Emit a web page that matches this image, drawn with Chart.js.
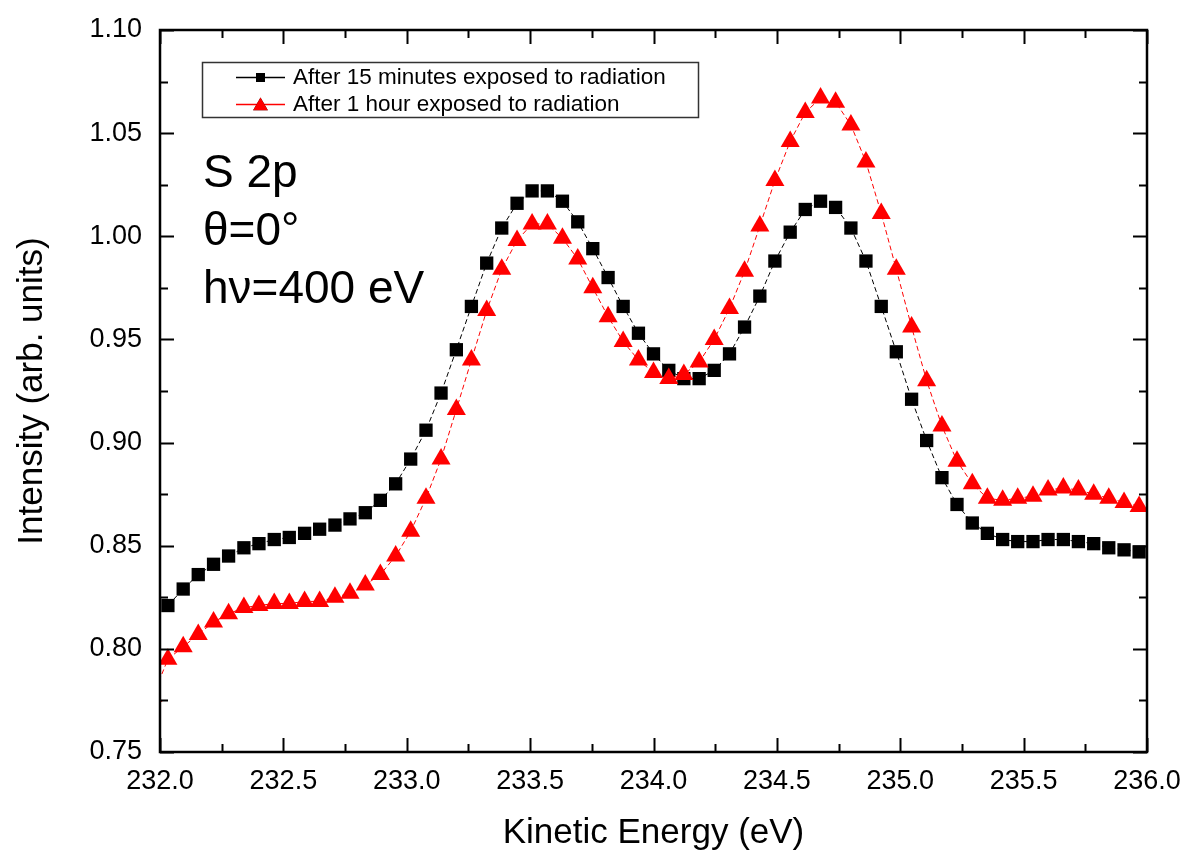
<!DOCTYPE html>
<html>
<head>
<meta charset="utf-8">
<script src="https://cdn.jsdelivr.net/npm/chart.js@4/dist/chart.umd.min.js"></script>
<style>
html,body{margin:0;padding:0;background:#fff;}
#wrap{width:1186px;height:852px;position:relative;}
</style>
</head>
<body>
<div id="wrap"><canvas id="c" width="1186" height="852"></canvas></div>
<script>
// ---- data ----
const energy = [
  232.032,232.094,232.155,232.217,232.278,232.340,232.401,232.463,232.524,232.586,
  232.647,232.709,232.770,232.832,232.893,232.955,233.016,233.078,233.139,233.201,
  233.262,233.324,233.385,233.447,233.508,233.570,233.631,233.693,233.754,233.816,
  233.877,233.939,234.000,234.062,234.123,234.185,234.246,234.308,234.369,234.431,
  234.492,234.554,234.615,234.677,234.738,234.800,234.861,234.923,234.984,235.046,
  235.107,235.169,235.230,235.292,235.353,235.415,235.476,235.538,235.599,235.661,
  235.722,235.784,235.845,235.907,235.968
];
const after15min = [
  0.821,0.829,0.836,0.841,0.845,0.849,0.851,0.853,0.854,0.856,
  0.858,0.860,0.863,0.866,0.872,0.880,0.892,0.906,0.924,0.945,
  0.966,0.987,1.004,1.016,1.022,1.022,1.017,1.007,0.994,0.980,
  0.966,0.953,0.943,0.935,0.931,0.931,0.935,0.943,0.956,0.971,
  0.988,1.002,1.013,1.017,1.014,1.004,0.988,0.966,0.944,0.921,
  0.901,0.883,0.870,0.861,0.856,0.853,0.852,0.852,0.853,0.853,
  0.852,0.851,0.849,0.848,0.847
];
const after1hour = [
  0.795,0.801,0.807,0.813,0.817,0.820,0.821,0.822,0.822,0.823,
  0.823,0.825,0.827,0.831,0.836,0.845,0.857,0.873,0.892,0.916,
  0.940,0.964,0.984,0.998,1.006,1.006,0.999,0.989,0.975,0.961,
  0.949,0.940,0.934,0.931,0.933,0.939,0.950,0.965,0.983,1.005,
  1.027,1.046,1.060,1.067,1.065,1.054,1.036,1.011,0.984,0.956,
  0.930,0.908,0.891,0.880,0.873,0.872,0.873,0.874,0.877,0.878,
  0.877,0.875,0.873,0.871,0.869
];
// the red curve starts just left of the axis (clipped)
const leadEnergy = [231.971];
const leadAfter1hour = [0.777];

const xTicks = [232.0,232.5,233.0,233.5,234.0,234.5,235.0,235.5,236.0];
const yTicks = [0.75,0.80,0.85,0.90,0.95,1.00,1.05,1.10];
const seriesLabels = ["After 15 minutes exposed to radiation","After 1 hour exposed to radiation"];
const annotationLines = ["S 2p","\u03B8=0\u00B0","h\u03BD=400 eV"];
const xTitle = "Kinetic Energy (eV)";
const yTitle = "Intensity (arb. units)";

// ---- chart ----
const FONT = '"Liberation Sans", Arial, Helvetica, sans-serif';

const framePlugin = {
  id: 'framePlugin',
  afterDatasetsDraw(chart) {
    const {ctx, chartArea: a, scales: {x, y}} = chart;
    ctx.save();
    ctx.strokeStyle = '#000';
    // ticks (inward), major and minor
    ctx.lineWidth = 2;
    const MAJ = 14, MIN = 8;
    const xMinor = [];
    for (let i = 0; i < xTicks.length - 1; i++) xMinor.push((xTicks[i] + xTicks[i+1]) / 2);
    const yMinor = [];
    for (let i = 0; i < yTicks.length - 1; i++) yMinor.push((yTicks[i] + yTicks[i+1]) / 2);
    ctx.beginPath();
    xTicks.forEach(v => { const p = Math.round(x.getPixelForValue(v)) + 0.5;
      ctx.moveTo(p, a.bottom); ctx.lineTo(p, a.bottom - MAJ);
      ctx.moveTo(p, a.top); ctx.lineTo(p, a.top + MAJ); });
    xMinor.forEach(v => { const p = Math.round(x.getPixelForValue(v)) + 0.5;
      ctx.moveTo(p, a.bottom); ctx.lineTo(p, a.bottom - MIN);
      ctx.moveTo(p, a.top); ctx.lineTo(p, a.top + MIN); });
    yTicks.forEach(v => { const p = Math.round(y.getPixelForValue(v)) + 0.5;
      ctx.moveTo(a.left, p); ctx.lineTo(a.left + MAJ, p);
      ctx.moveTo(a.right, p); ctx.lineTo(a.right - MAJ, p); });
    yMinor.forEach(v => { const p = Math.round(y.getPixelForValue(v)) + 0.5;
      ctx.moveTo(a.left, p); ctx.lineTo(a.left + MIN, p);
      ctx.moveTo(a.right, p); ctx.lineTo(a.right - MIN, p); });
    ctx.stroke();
    // frame
    ctx.lineWidth = 2.5;
    ctx.strokeRect(a.left, a.top, a.right - a.left, a.bottom - a.top);

    // annotation text
    ctx.fillStyle = '#000';
    ctx.font = '46px ' + FONT;
    ctx.textAlign = 'left';
    ctx.textBaseline = 'alphabetic';
    const baseY = [187, 245, 303];
    annotationLines.forEach((t, i) => ctx.fillText(t, 203, baseY[i]));

    // legend box
    const bx = 202, by = 62, bw = 496, bh = 55;
    ctx.fillStyle = '#fff';
    ctx.fillRect(bx, by, bw, bh);
    ctx.lineWidth = 1.5;
    ctx.strokeStyle = '#333';
    ctx.strokeRect(bx + 0.5, by + 0.5, bw, bh);
    const rows = [77, 104];
    chart.data.datasets.forEach((ds, i) => {
      const ry = rows[i];
      ctx.strokeStyle = ds.borderColor;
      ctx.lineWidth = 1.5;
      ctx.setLineDash([]);
      ctx.beginPath(); ctx.moveTo(236, ry + 0.5); ctx.lineTo(285, ry + 0.5); ctx.stroke();
      Chart.helpers.drawPoint(ctx, {
        pointStyle: ds.pointStyle,
        radius: ds.pointStyle === 'rect' ? 6.4 : 8.5,
        rotation: 0, borderWidth: 0
      }, 260.5, ds.pointStyle === 'rect' ? ry + 0.5 : ry + 2);
      ctx.fillStyle = ds.backgroundColor;
      ctx.fill();
      ctx.fillStyle = '#000';
      ctx.font = '22.5px ' + FONT;
      ctx.textBaseline = 'middle';
      ctx.fillText(seriesLabels[i], 293, ry + 1);
    });
    ctx.restore();
  }
};

const cfg = {
  type: 'line',
  data: {
    datasets: [
      {
        label: seriesLabels[0],
        data: energy.map((e, i) => ({x: e, y: after15min[i]})),
        borderColor: '#000000',
        backgroundColor: '#000000',
        borderWidth: 1,
        borderDash: [5, 3],
        pointStyle: 'rect',
        pointRadius: 9.4,
        pointBorderWidth: 0,
        pointHoverRadius: 9.4,
        tension: 0,
        order: 1
      },
      {
        label: seriesLabels[1],
        data: leadEnergy.map((e, i) => ({x: e, y: leadAfter1hour[i]}))
              .concat(energy.map((e, i) => ({x: e, y: after1hour[i]}))),
        borderColor: '#ff0000',
        backgroundColor: '#ff0000',
        borderWidth: 1,
        borderDash: [5, 3],
        pointStyle: 'triangle',
        pointRadius: 11,
        pointBorderWidth: 0,
        pointHoverRadius: 11,
        tension: 0,
        order: 0
      }
    ]
  },
  options: {
    responsive: false,
    devicePixelRatio: 1,
    animation: false,
    events: [],
    layout: {padding: {top: 30, right: 39, left: 0, bottom: 0}},
    plugins: {legend: {display: false}, tooltip: {enabled: false}},
    scales: {
      x: {
        type: 'linear', position: 'bottom', min: 232, max: 236,
        afterBuildTicks: s => { s.ticks = xTicks.map(v => ({value: v})); },
        afterFit: s => { s.height = 100; s.paddingLeft = 0; s.paddingRight = 0; },
        grid: {display: false, drawTicks: false},
        border: {display: false},
        ticks: {
          color: '#000', font: {family: FONT, size: 27}, padding: 13,
          maxRotation: 0, autoSkip: false,
          callback: v => Number(v).toFixed(1)
        },
        title: {display: true, text: xTitle, color: '#000',
                font: {family: FONT, size: 35}, padding: {top: 0, bottom: -2}}
      },
      y: {
        type: 'linear', position: 'left', min: 0.75, max: 1.10,
        afterBuildTicks: s => { s.ticks = yTicks.map(v => ({value: v})); },
        afterFit: s => { s.width = 160; s.paddingTop = 0; s.paddingBottom = 0; },
        grid: {display: false, drawTicks: false},
        border: {display: false},
        ticks: {
          color: '#000', font: {family: FONT, size: 27}, padding: 18,
          autoSkip: false,
          callback: v => Number(v).toFixed(2)
        },
        title: {display: true, text: yTitle, color: '#000',
                font: {family: FONT, size: 35}, padding: {top: 11, bottom: 0}}
      }
    }
  },
  plugins: [framePlugin]
};

new Chart(document.getElementById('c'), cfg);
</script>
</body>
</html>
